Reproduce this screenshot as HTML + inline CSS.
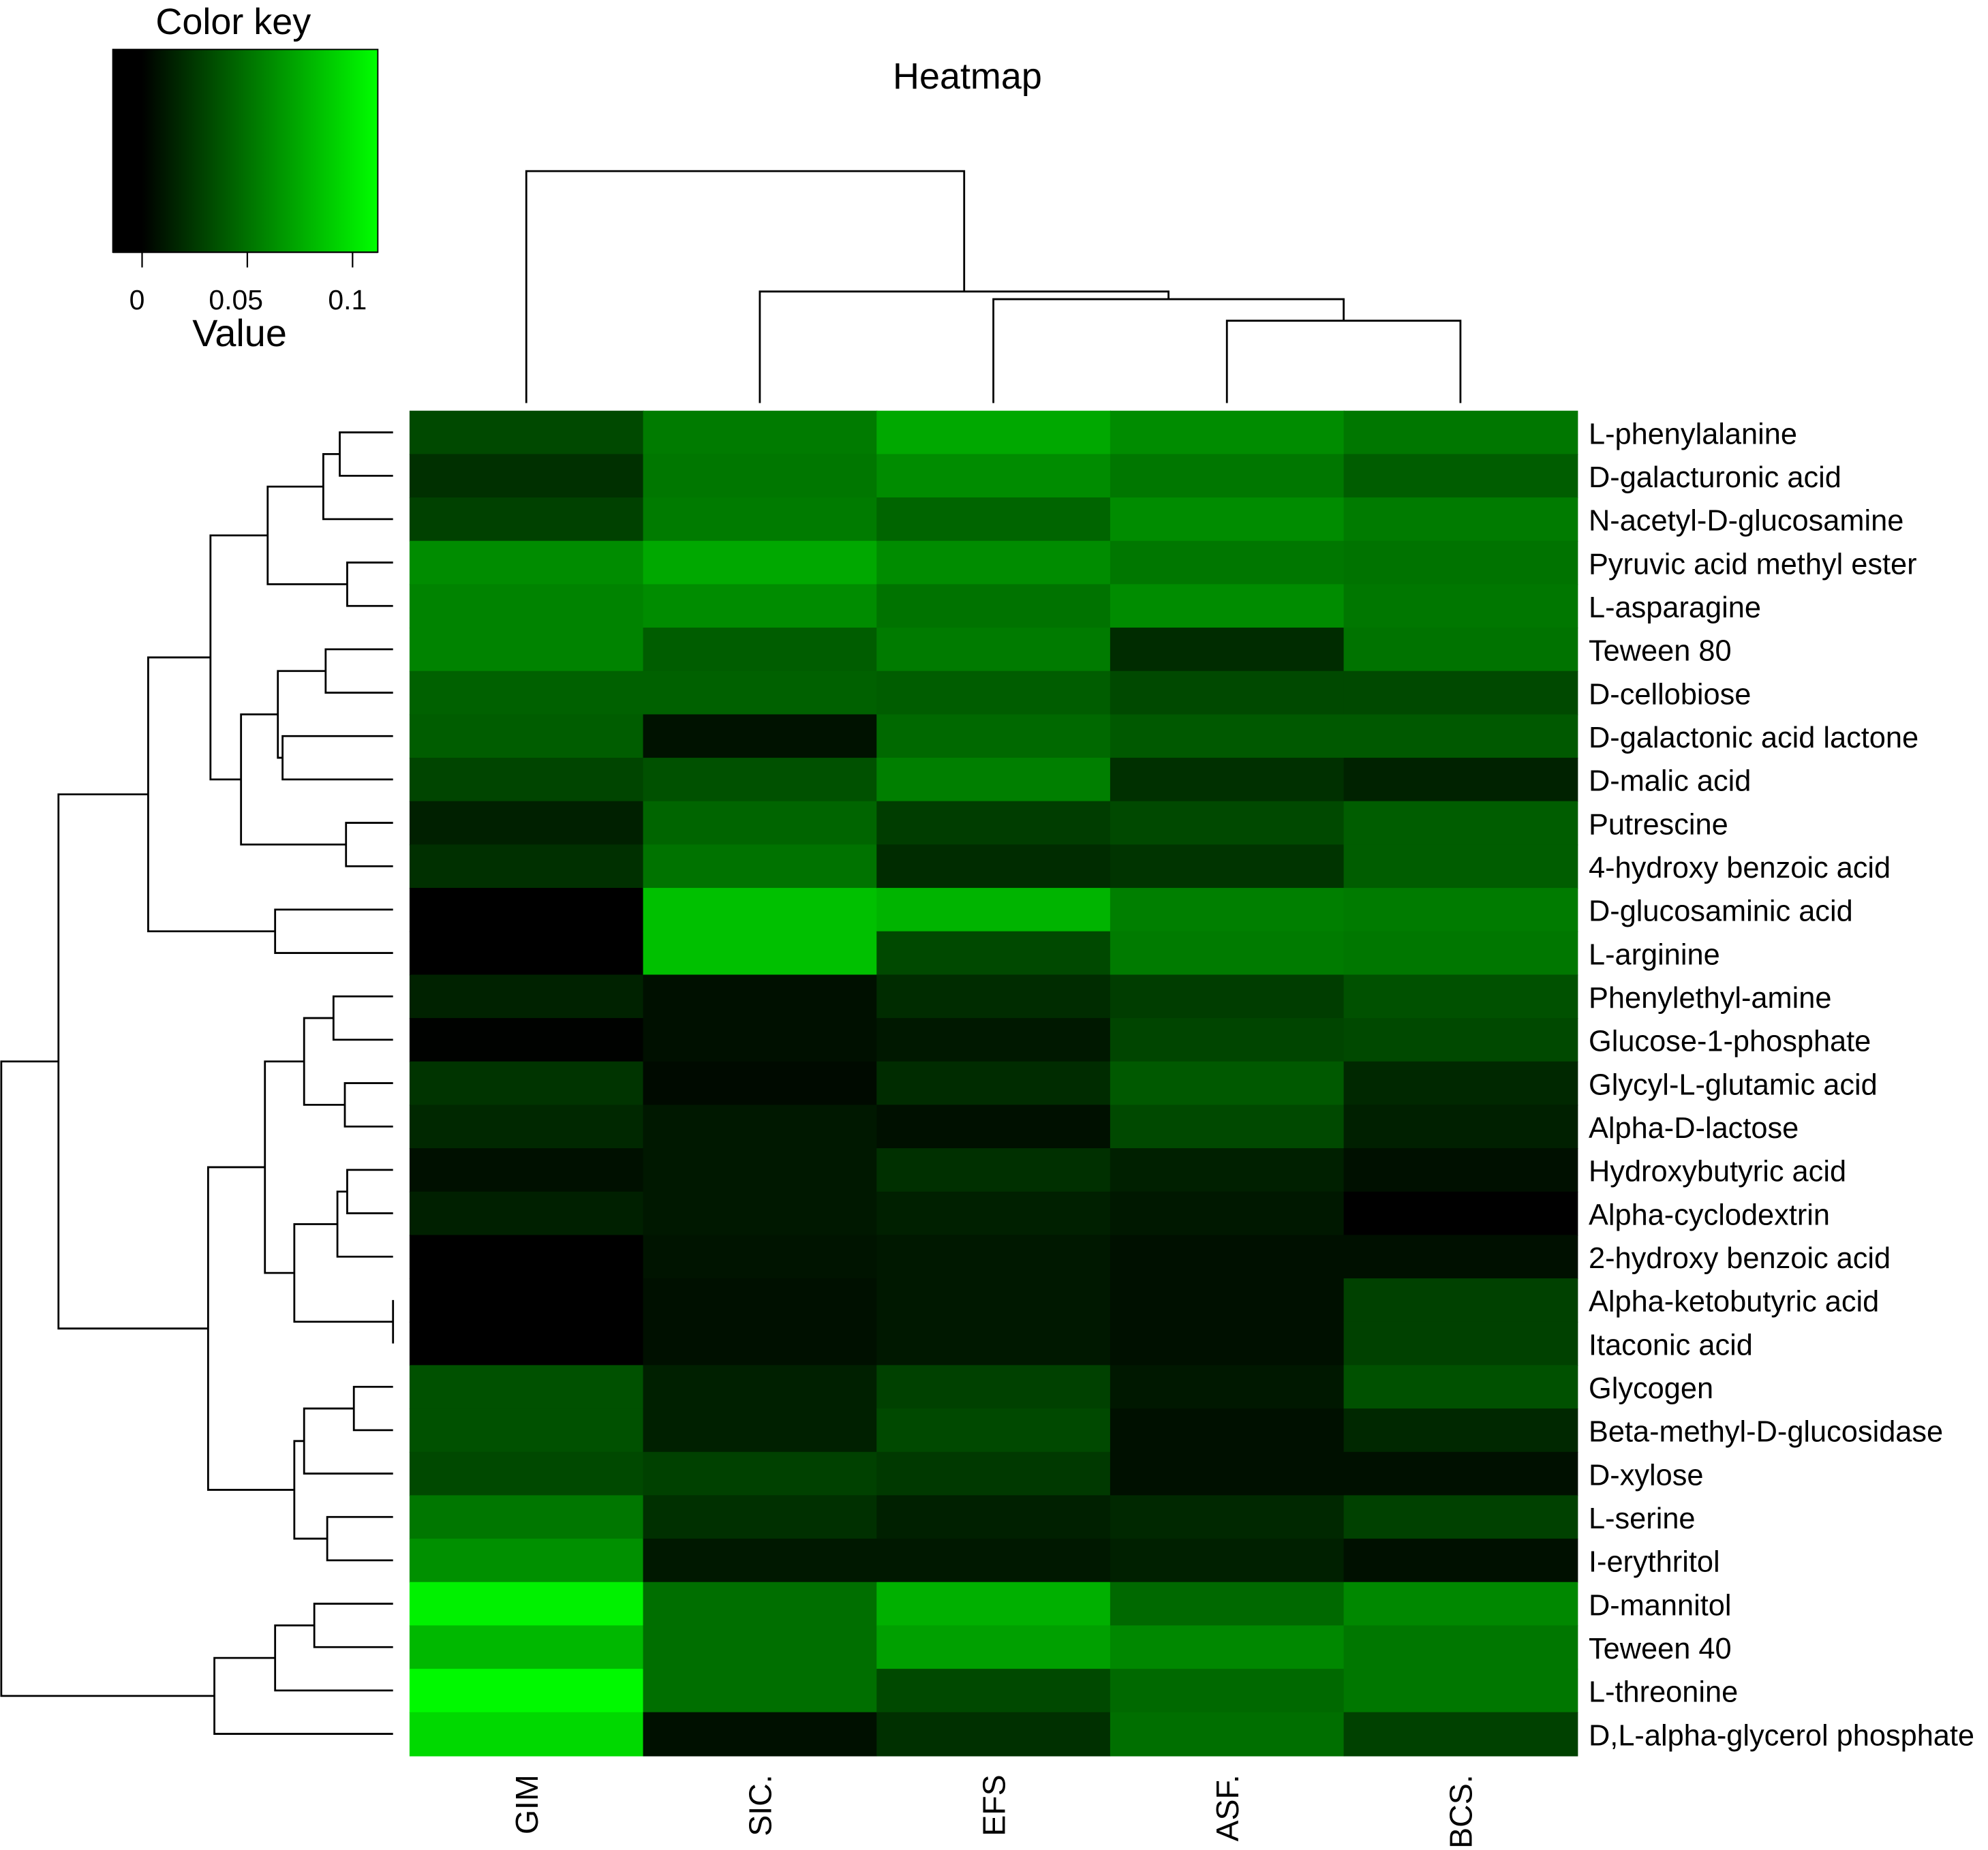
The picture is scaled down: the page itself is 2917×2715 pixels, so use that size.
<!DOCTYPE html>
<html><head><meta charset="utf-8"><style>
html,body{margin:0;padding:0;background:#fff;}
svg{display:block;}
text{font-family:"Liberation Sans",sans-serif;fill:#000;}
</style></head><body>
<svg id="chart" width="2917" height="2715" viewBox="0 0 1568 1459.5" preserveAspectRatio="none" xmlns="http://www.w3.org/2000/svg">
<defs><linearGradient id="keyGrad" x1="0" x2="1" y1="0" y2="0">
<stop offset="0" stop-color="#000"/><stop offset="0.11" stop-color="#000"/><stop offset="1" stop-color="#00ff00"/></linearGradient></defs>
<text x="184" y="27" font-size="29" text-anchor="middle">Color key</text>
<rect x="89" y="39" width="209" height="160" fill="url(#keyGrad)" stroke="#000" stroke-width="1"/>
<g id="keyAxis"></g>
<text x="189" y="273" font-size="30" text-anchor="middle">Value</text>
<text x="763" y="70" font-size="29" text-anchor="middle">Heatmap</text>
<g id="cells"></g>
<g id="rowDendro" stroke="#000" stroke-width="1.5" fill="none"></g>
<g id="colDendro" stroke="#000" stroke-width="1.5" fill="none"></g>
<g id="rowLabels"></g>
<g id="colLabels"></g>
</svg>
<script>
const rowNames = ["L-phenylalanine","D-galacturonic acid","N-acetyl-D-glucosamine","Pyruvic acid methyl ester","L-asparagine","Teween 80","D-cellobiose","D-galactonic acid lactone","D-malic acid","Putrescine","4-hydroxy benzoic acid","D-glucosaminic acid","L-arginine","Phenylethyl-amine","Glucose-1-phosphate","Glycyl-L-glutamic acid","Alpha-D-lactose","Hydroxybutyric acid","Alpha-cyclodextrin","2-hydroxy benzoic acid","Alpha-ketobutyric acid","Itaconic acid","Glycogen","Beta-methyl-D-glucosidase","D-xylose","L-serine","I-erythritol","D-mannitol","Teween 40","L-threonine","D,L-alpha-glycerol phosphate"];
const colNames = ["GIM","SIC.","EFS","ASF.","BCS."];
const valGIM = [0.022,0.010,0.018,0.055,0.051,0.051,0.034,0.032,0.020,0.002,0.010,-0.014,-0.014,0.003,-0.013,0.012,0.006,-0.006,0.002,-0.014,-0.014,-0.014,0.026,0.026,0.022,0.045,0.057,0.105,0.077,0.109,0.093];
const valSIC = [0.047,0.045,0.047,0.069,0.055,0.032,0.034,-0.005,0.026,0.036,0.043,0.081,0.081,-0.006,-0.006,-0.009,-0.002,-0.002,-0.002,-0.004,-0.006,-0.006,0.002,0.002,0.018,0.010,-0.002,0.041,0.041,0.041,-0.006];
const valEFS = [0.069,0.055,0.036,0.055,0.043,0.047,0.032,0.038,0.049,0.016,0.008,0.075,0.022,0.008,-0.002,0.008,-0.006,0.010,0.002,-0.002,-0.002,-0.002,0.018,0.022,0.014,0.002,-0.002,0.073,0.065,0.022,0.010];
const valASF = [0.055,0.045,0.055,0.045,0.055,0.008,0.022,0.030,0.010,0.022,0.012,0.049,0.047,0.016,0.020,0.030,0.022,0.002,-0.002,-0.006,-0.006,-0.006,-0.002,-0.006,-0.006,0.006,0.002,0.038,0.053,0.038,0.041];
const valBCS = [0.045,0.032,0.047,0.043,0.045,0.043,0.022,0.030,0.003,0.032,0.032,0.047,0.045,0.026,0.022,0.006,0.002,-0.006,-0.014,-0.006,0.018,0.018,0.026,0.006,-0.006,0.018,-0.006,0.053,0.045,0.045,0.018];
const keyTicks = [0, 0.05, 0.1];
const keyTickLabels = ["0","0.05","0.1"];
const rowMergeA = [-1,1,-4,2,-6,-8,5,-10,7,4,-12,10,-14,-16,13,-18,16,-21,17,15,-23,21,-26,22,20,12,-28,27,28,26];
const rowMergeB = [-2,-3,-5,3,-7,-9,6,-11,8,9,-13,11,-15,-17,14,-19,-20,-22,18,19,-24,-25,-27,23,24,25,-29,-30,-31,29];
const rowMergeH = [0.136,0.178,0.117,0.320,0.172,0.282,0.294,0.120,0.388,0.466,0.301,0.625,0.152,0.123,0.227,0.117,0.142,0.0,0.252,0.327,0.100,0.227,0.168,0.252,0.472,0.854,0.201,0.301,0.456,1.0];
const colMergeA = [-4,-3,-2,-1];
const colMergeB = [-5,1,2,3];
const colMergeH = [0.355,0.448,0.481,1.0];

const VMIN=-0.0139, VMAX=0.112;
const HX0=323, HX1=1244, HY0=324, HY1=1385;
const values=[valGIM,valSIC,valEFS,valASF,valBCS];
const NS="http://www.w3.org/2000/svg";
const colW=(HX1-HX0)/colNames.length, rowH=(HY1-HY0)/rowNames.length;
function xCol(j){return HX0+j*colW;}
function yRow(i){return HY0+i*rowH;}
function colorOf(v){let t=(v-VMIN)/(VMAX-VMIN);t=Math.max(0,Math.min(1,t));return "rgb(0,"+Math.round(t*255)+",0)";}
function keyX(v){return 89+(v-VMIN)/(VMAX-VMIN)*209;}
function rowDX(h){return 310-h*309;}
function colDY(h){return 318-h*183;}
function mk(tag,attrs,parent){const e=document.createElementNS(NS,tag);for(const k in attrs)e.setAttribute(k,attrs[k]);parent.appendChild(e);return e;}

const cells=document.getElementById('cells');
for(let j=0;j<colNames.length;j++){for(let i=0;i<rowNames.length;i++){
  const r=mk('rect',{x:xCol(j),y:yRow(i),width:colW+0.6,height:rowH+0.6,fill:colorOf(values[j][i])},cells);
  
  
}}
const ka=document.getElementById('keyAxis');
keyTicks.forEach((v,k)=>{
  const l=mk('line',{x1:keyX(v),x2:keyX(v),y1:199,y2:211,stroke:'#000','stroke-width':1.2},ka);
  
  
  const t=mk('text',{x:keyX(v)-(k==0?4:(k==1?9:4)),y:244,'font-size':22,'text-anchor':'middle'},ka);
  t.textContent=keyTickLabels[k];
  
  
});
mk('line',{x1:89,x2:298,y1:199,y2:199,stroke:'#000','stroke-width':1.2},ka);

function drawDendro(A,B,H,g,horizontal){
  const pos=[],hh=[];
  function leafPos(k){return horizontal? yRow(k-1)+rowH/2 : xCol(k-1)+colW/2;}
  function get(n){return n<0?{p:leafPos(-n),h:0}:{p:pos[n-1],h:hh[n-1]};}
  for(let m=0;m<A.length;m++){
    const a=get(A[m]),b=get(B[m]),h=H[m];
    let d;
    if(horizontal){
      const x=rowDX(h),xa=rowDX(a.h),xb=rowDX(b.h);
      d="M"+xa+","+a.p+"H"+x+"V"+b.p+"H"+xb;
    } else {
      const y=colDY(h),ya=colDY(a.h),yb=colDY(b.h);
      d="M"+a.p+","+ya+"V"+y+"H"+b.p+"V"+yb;
    }
    const p=mk('path',{d:d},g);
    
    
    pos.push((a.p+b.p)/2);hh.push(h);
  }
}
drawDendro(rowMergeA,rowMergeB,rowMergeH,document.getElementById('rowDendro'),true);
drawDendro(colMergeA,colMergeB,colMergeH,document.getElementById('colDendro'),false);
const rl=document.getElementById('rowLabels');
rowNames.forEach((n,i)=>{
  const t=mk('text',{x:1253,y:yRow(i)+rowH/2+9,'font-size':23.3},rl);
  t.textContent=n;
  
  
});
const cl=document.getElementById('colLabels');
colNames.forEach((n,j)=>{
  const cx=xCol(j)+colW/2+9;
  const t=mk('text',{transform:'translate('+cx+',1400) rotate(-90)','font-size':25,'text-anchor':'end'},cl);
  t.textContent=n;
  
  
});
</script>
</body></html>
